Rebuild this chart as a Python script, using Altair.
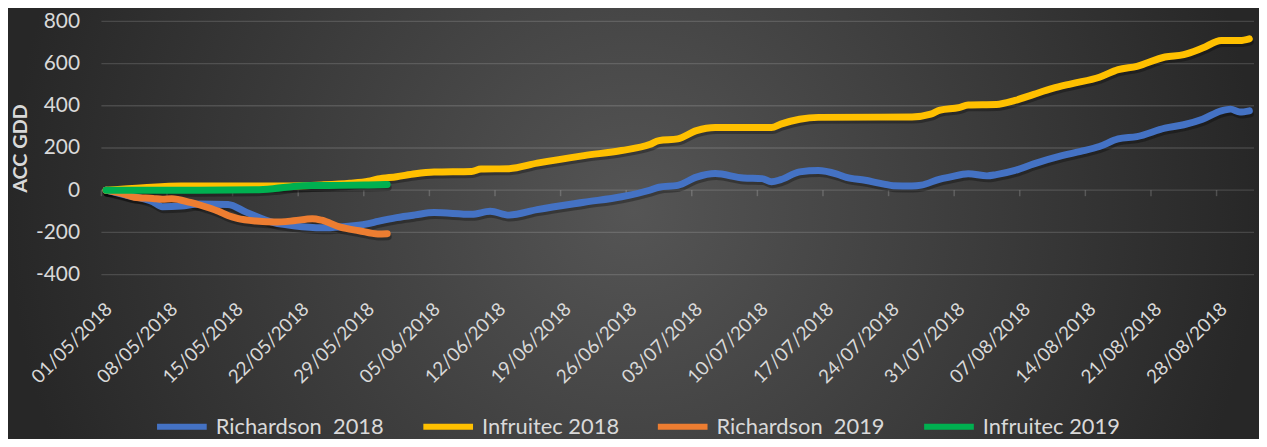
import pandas as pd
import altair as alt

# ---------------- data ----------------
series_names = ["Richardson \u00a02018", "Infruitec 2018", "Richardson \u00a02019", "Infruitec 2019"]
series_colors = ["#4472C4", "#FFC000", "#ED7D31", "#00B050"]

start_date = "2018-05-01"

rich18_days = [0, 2, 5, 6, 8, 10, 13, 15, 18, 20, 23, 25, 28, 29, 31, 33, 35, 39, 41, 43,
               46, 51, 55, 58, 59, 61, 63, 65, 68, 70, 71, 72, 74, 76, 78, 79, 81, 83, 84, 86,
               87, 89, 90, 92, 94, 95, 97, 99, 102, 104, 106, 108, 110, 113, 115, 117, 119, 120, 121, 122]
rich18_vals = [0, -22, -55, -78, -75, -65, -68, -105, -155, -168, -178, -174, -158, -148, -130, -117, -106, -114, -100, -118,
               -92, -57, -31, 0, 14, 23, 62, 79, 58, 55, 40, 50, 87, 93, 76, 61, 47, 29, 21, 20,
               24, 53, 62, 78, 68, 74, 94, 125, 164, 184, 207, 243, 254, 294, 310, 336, 376, 384, 370, 376]

inf18_days = [0, 4, 8, 19, 23, 26, 28, 29, 31, 33, 35, 39, 40, 43, 46, 51, 55, 58, 59, 61,
              63, 65, 71, 72, 74, 76, 86, 88, 89, 91, 92, 95, 97, 99, 101, 103, 106, 108, 110, 113,
              115, 117, 119, 121, 122]
inf18_vals = [0, 12, 20, 20, 25, 33, 43, 53, 64, 78, 86, 89, 100, 102, 128, 164, 188, 216, 235, 243,
              282, 297, 297, 313, 336, 345, 347, 360, 379, 391, 404, 406, 425, 454, 482, 504, 535, 571, 587, 631,
              642, 673, 709, 709, 717]

rich19_days = [0, 2, 3, 5, 6, 7, 9, 10, 12, 13, 14, 16, 18, 20, 22, 23, 25, 27, 29, 30]
rich19_vals = [0, -20, -33, -39, -43, -40, -58, -70, -100, -120, -133, -146, -151, -145, -135, -142, -175, -192, -207, -206]

inf19_days = [0, 10, 16, 18, 20, 22, 25, 28, 30]
inf19_vals = [0, 0, 2, 8, 18, 22, 23, 25, 27]

y_ticks = [-400, -200, 0, 200, 400, 600, 800]
x_tick_labels = ["01/05/2018", "08/05/2018", "15/05/2018", "22/05/2018", "29/05/2018",
                 "05/06/2018", "12/06/2018", "19/06/2018", "26/06/2018", "03/07/2018",
                 "10/07/2018", "17/07/2018", "24/07/2018", "31/07/2018", "07/08/2018",
                 "14/08/2018", "21/08/2018", "28/08/2018"]

# ---------------- tables ----------------
base = pd.Timestamp(start_date)
rows = []
for name, days, vals in [(series_names[0], rich18_days, rich18_vals),
                         (series_names[1], inf18_days, inf18_vals),
                         (series_names[2], rich19_days, rich19_vals),
                         (series_names[3], inf19_days, inf19_vals)]:
    for d, v in zip(days, vals):
        rows.append({"series": name,
                     "date": (base + pd.Timedelta(days=d)).strftime("%Y-%m-%dT00:00:00"),
                     "value": v})
df = pd.DataFrame(rows)

tick_ts = [pd.to_datetime(s, format="%d/%m/%Y") for s in x_tick_labels]
tick_df = pd.DataFrame({"date": [t.strftime("%Y-%m-%dT00:00:00") for t in tick_ts]})
tick_values = [alt.DateTime(year=t.year, month=t.month, date=t.day) for t in tick_ts]
grid_df = pd.DataFrame({"value": y_ticks})

W, H = 1160, 255
PAD = {"left": 94, "top": 12, "right": 5, "bottom": 164}
FONT = "Lato"
TXT = "#d9d9d9"

x_scale = alt.Scale(domain=[alt.DateTime(year=2018, month=4, date=30, hours=12),
                            alt.DateTime(year=2018, month=8, date=31, hours=12)])
y_scale = alt.Scale(domain=[min(y_ticks), max(y_ticks)], nice=False)

x_axis = alt.Axis(values=tick_values, format="%d/%m/%Y", labelAngle=315, labelFontSize=19,
                  labelFont=FONT, labelColor=TXT, domain=False, ticks=False, tickSize=0,
                  grid=False, labelPadding=25, labelOffset=-4, title=None, labelOverlap=False,
                  zindex=2)
y_axis = alt.Axis(values=y_ticks, labelFontSize=21, labelFont=FONT, labelColor=TXT,
                  labelExpr="datum.value < 0 ? '-' + abs(datum.value) : '' + datum.value",
                  domain=False, ticks=False, tickSize=0, grid=False, labelPadding=22,
                  title="ACC GDD", titleFont=FONT, titleFontSize=20, titleFontWeight="bold",
                  titleColor=TXT, titleX=-71, titleY=H / 2, titleAngle=270,
                  titleAlign="center", titleBaseline="bottom", zindex=2)

gradient = {"gradient": "radial",
            "x1": 0.5, "y1": 0.5, "r1": 0,
            "x2": 0.5, "y2": 0.5, "r2": 0.5,
            "stops": [{"offset": 0, "color": "#555555"},
                      {"offset": 1, "color": "#272727"}]}

bg = alt.Chart(pd.DataFrame({"k": [0]})).mark_rect(fill=gradient).encode(
    x=alt.value(-PAD["left"]), x2=alt.value(W + PAD["right"]),
    y=alt.value(190 - 630), y2=alt.value(190 + 630))

grid = alt.Chart(grid_df).mark_rule(color="#ffffff", strokeOpacity=0.14, strokeWidth=1.3).encode(
    y=alt.Y("value:Q", scale=y_scale, axis=y_axis))

zero_ticks = alt.Chart(tick_df).mark_tick(orient="vertical", size=6, thickness=1.5,
                                          color="#ffffff", opacity=0.18, yOffset=3, xOffset=-4.7).encode(
    x=alt.X("date:T", scale=x_scale, axis=x_axis),
    y=alt.datum(0))

shadow = alt.Chart(df).mark_line(color="#000000", opacity=0.3, strokeWidth=7, yOffset=3, xOffset=1,
                                 interpolate="monotone", strokeCap="round", strokeJoin="round").encode(
    x=alt.X("date:T"), y=alt.Y("value:Q"), detail="series:N")

lines = alt.Chart(df).mark_line(strokeWidth=7, interpolate="monotone", strokeCap="round",
                                strokeJoin="round").encode(
    x=alt.X("date:T"),
    y=alt.Y("value:Q"),
    color=alt.Color("series:N", scale=alt.Scale(domain=series_names, range=series_colors),
                    legend=alt.Legend(orient="none", legendX=53, legendY=380, direction="horizontal",
                                      title=None, symbolType="stroke",
                                      symbolStrokeWidth=6, symbolSize=2500, labelFontSize=22,
                                      labelFont=FONT, labelColor=TXT, columnPadding=27, labelOffset=6,
                                      padding=0, labelLimit=400, zindex=2)))

chart = alt.layer(bg, grid, zero_ticks, shadow, lines).properties(
    width=W, height=H,
    autosize=alt.AutoSizeParams(type="none"),
    padding=PAD,
    background="#272727",
).configure_view(stroke=None)

chart.save("out.html", embed_options={"renderer": "svg", "actions": False})
